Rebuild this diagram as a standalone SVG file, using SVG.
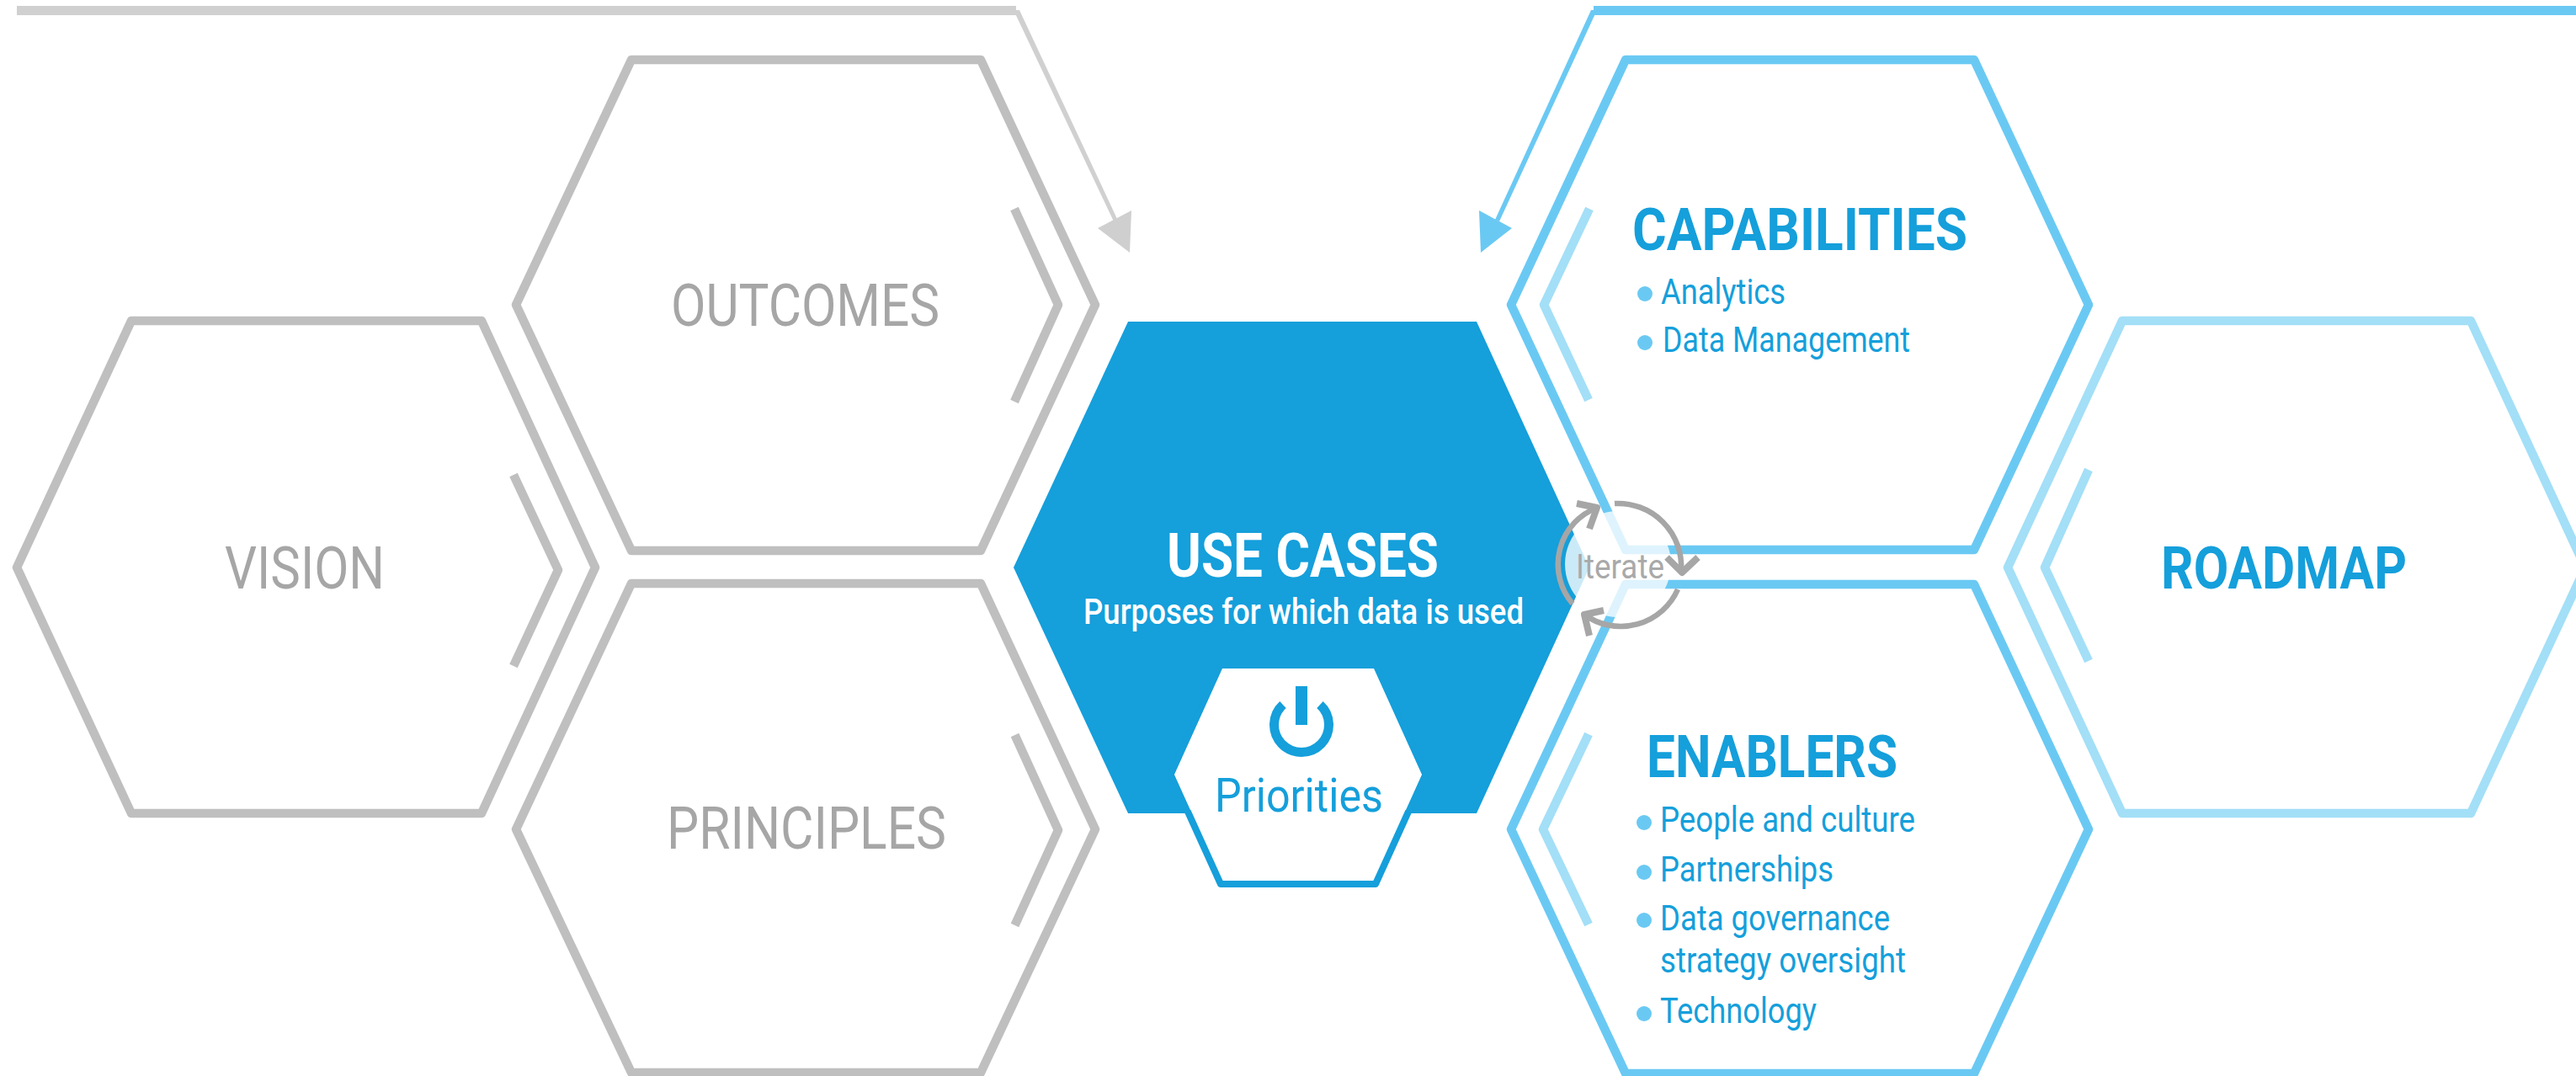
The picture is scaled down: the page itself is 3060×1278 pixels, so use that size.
<svg xmlns="http://www.w3.org/2000/svg" width="3060" height="1278" viewBox="0 0 3060 1278">
<style>
text{font-family:Roboto,"Liberation Sans",sans-serif}
.hg,.hb,.hl,.cg,.cl{fill:none;stroke-width:10.500;stroke-linejoin:round}
.hg,.cg{stroke:#bfbfbf}
.hb{stroke:#6ac9f3}
.hl,.cl{stroke:#a3dff7}
.tg{fill:#a6a6a6;font-size:70px}
.tb{fill:#159fdb;font-size:71px;font-weight:700}
.it{fill:#159fdb;font-size:42px}
.dot{fill:#6ac9f3}
.iter{fill:none;stroke:#a6a6a6;stroke-width:6.500}
.head{fill:none;stroke:#a6a6a6;stroke-width:8;stroke-linejoin:round}
</style>
<rect width="3060" height="1278" fill="#fff"/>
<g id="vision">
<polygon class="hg" points="156,381 572,381 707,674 572,966 156,966 20,674"/>
<polyline class="cg" points="610,564 663,677 610,791"/>
<text class="tg" x="267" y="699" textLength="190" lengthAdjust="spacingAndGlyphs">VISION</text>
</g>
<g id="outcomes">
<polygon class="hg" points="750,71 1165,71 1301,362 1165,654 750,654 613,362"/>
<polyline class="cg" points="1205,248 1257,362 1205,477"/>
<text class="tg" x="797" y="387" textLength="319" lengthAdjust="spacingAndGlyphs">OUTCOMES</text>
</g>
<g id="principles">
<polygon class="hg" points="750,693 1165,693 1301,985 1165,1274 750,1274 613,985"/>
<polyline class="cg" points="1205.500,873 1257,986 1205.500,1099"/>
<text class="tg" x="792" y="1008" textLength="332" lengthAdjust="spacingAndGlyphs">PRINCIPLES</text>
</g>
<g id="use-cases">
<polygon fill="#159fdb" points="1340,382 1754,382 1888,674 1754,966 1340,966 1204,674"/>
<text x="1386" y="685" fill="#fff" font-size="73" font-weight="700" textLength="323" lengthAdjust="spacingAndGlyphs">USE CASES</text>
<text x="1287" y="741" fill="#fff" font-size="42" font-weight="500" textLength="523" lengthAdjust="spacingAndGlyphs">Purposes for which data is used</text>
</g>
<g id="priorities">
<polygon fill="#fff" stroke="#159fdb" stroke-width="8" stroke-linejoin="round" points="1450,790 1634,790 1693,920 1634,1050 1450,1050 1391,920"/>
<polygon fill="#fff" points="1452,794 1632,794 1689,920 1670,962 1414,962 1395,920"/>
<path d="M1524 837A32.500 32.500 0 1 0 1568 837" fill="none" stroke="#159fdb" stroke-width="11"/>
<rect x="1539" y="815" width="14" height="46" fill="#159fdb"/>
<text x="1443" y="964" fill="#159fdb" font-size="56" textLength="200" lengthAdjust="spacingAndGlyphs">Priorities</text>
</g>
<g id="capabilities">
<polygon class="hb" points="1931,71 2345,71 2481,362 2345,653 1931,653 1795,362"/>
<polyline class="cl" points="1888,248 1834,362 1887,475"/>
<text class="tb" x="1939" y="297" textLength="398" lengthAdjust="spacingAndGlyphs">CAPABILITIES</text>
<circle class="dot" cx="1954" cy="349" r="9"/>
<text class="it" x="1973" y="361" textLength="148" lengthAdjust="spacingAndGlyphs">Analytics</text>
<circle class="dot" cx="1954" cy="407" r="9"/>
<text class="it" x="1975" y="418" textLength="294" lengthAdjust="spacingAndGlyphs">Data Management</text>
</g>
<g id="enablers">
<polygon class="hb" points="1931,694 2345,694 2481,985 2345,1275 1931,1275 1795,985"/>
<polyline class="cl" points="1887,872 1833,985 1887,1098"/>
<text class="tb" x="1956" y="923" textLength="298" lengthAdjust="spacingAndGlyphs">ENABLERS</text>
<circle class="dot" cx="1953" cy="977" r="9"/>
<text class="it" x="1972" y="988" textLength="303" lengthAdjust="spacingAndGlyphs">People and culture</text>
<circle class="dot" cx="1953" cy="1036" r="9"/>
<text class="it" x="1972" y="1047" textLength="206" lengthAdjust="spacingAndGlyphs">Partnerships</text>
<circle class="dot" cx="1953" cy="1093" r="9"/>
<text class="it" x="1972" y="1105" textLength="273" lengthAdjust="spacingAndGlyphs">Data governance</text>
<text class="it" x="1972" y="1155" textLength="292" lengthAdjust="spacingAndGlyphs">strategy oversight</text>
<circle class="dot" cx="1953" cy="1204" r="9"/>
<text class="it" x="1972" y="1215" textLength="186" lengthAdjust="spacingAndGlyphs">Technology</text>
</g>
<g id="roadmap">
<polygon class="hl" points="2521,381 2935,381 3071,674 2935,966 2521,966 2385,674"/>
<polyline class="cl" points="2481,558 2429,674 2481,785"/>
<text class="tb" x="2567" y="699" textLength="292" lengthAdjust="spacingAndGlyphs">ROADMAP</text>
</g>
<g id="iterate">
<circle cx="1922" cy="670" r="63" fill="#fff" fill-opacity=".78"/>
<text x="1872" y="687" fill="#a9a9a9" font-size="41" textLength="105" lengthAdjust="spacingAndGlyphs">Iterate</text>
</g>
<g id="connectors">
<path d="M20 12.500H1207" fill="none" stroke="#d0d0d0" stroke-width="11"/>
<polygon fill="#d0d0d0" points="1204,12 1211,12 1328,262 1323,263"/>
<polygon fill="#cfcfcf" points="1344,250 1304,271 1342,300"/>
<path d="M1893 12.500H3060" fill="none" stroke="#6ac9f3" stroke-width="11"/>
<polygon fill="#6ac9f3" points="1890,12 1897,12 1781,263 1776,261"/>
<polygon fill="#6ac9f3" points="1757,250 1796,271 1759,300"/>
<path class="iter" d="M1868 717A72 72 0 0 1 1897 603"/>
<polyline class="head" points="1873,598 1897,603 1888,628"/>
<path class="iter" d="M1918 598A75 75 0 0 1 1997 678"/>
<polyline class="head" points="1980,662 1998,680 2017,662"/>
<path class="iter" d="M1993 700A74 74 0 0 1 1882 730"/>
<polyline class="head" points="1905,725 1882,730 1888,755"/>
</g>
</svg>
